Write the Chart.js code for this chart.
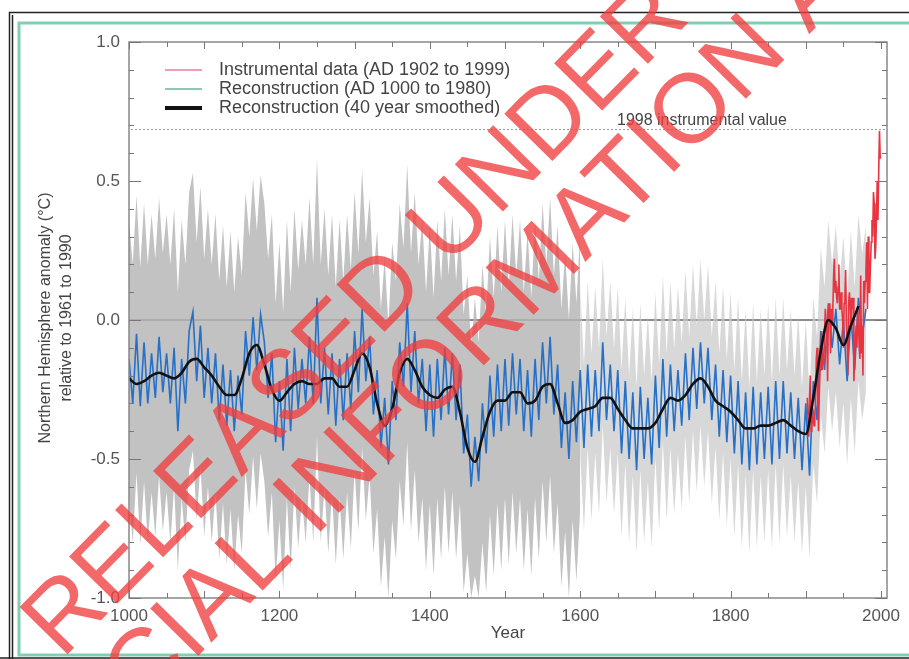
<!DOCTYPE html>
<html>
<head>
<meta charset="utf-8">
<script src="https://cdn.jsdelivr.net/npm/chart.js@4.4.1/dist/chart.umd.min.js"></script>
<style>
  html, body { margin: 0; padding: 0; background: #fff; }
  #wrap { width: 909px; height: 659px; position: relative; }
</style>
</head>
<body>
<div id="wrap"><canvas id="hockey"></canvas></div>
<script>
// reconstruction, AD 1000 to 1980, every 5 years
const reconStart = 1000;
const reconStep = 5;
const recon = [
  -0.14, -0.30, -0.05, -0.31, -0.08, -0.30, -0.12, -0.28, -0.06, -0.26,
  -0.12, -0.30, -0.10, -0.40, -0.14, -0.30, -0.04, 0.03, -0.22, -0.02,
  -0.28, -0.10, -0.30, -0.12, -0.36, -0.16, -0.38, -0.18, -0.40, -0.20,
  -0.34, -0.04, -0.20, 0.01, -0.18, 0.02, -0.08, -0.28, -0.12, -0.44,
  -0.22, -0.47, -0.14, -0.40, -0.10, -0.32, -0.14, -0.30, -0.06, -0.30,
  0.08, -0.30, -0.10, -0.34, -0.12, -0.38, -0.14, -0.36, -0.12, -0.32,
  -0.04, -0.26, 0.04, -0.22, -0.06, -0.34, -0.18, -0.46, -0.28, -0.52,
  -0.22, -0.36, -0.08, -0.24, 0.06, -0.26, -0.04, -0.30, -0.14, -0.40,
  -0.16, -0.42, -0.14, -0.36, -0.10, -0.34, -0.12, -0.36, -0.16, -0.48,
  -0.34, -0.60, -0.42, -0.58, -0.30, -0.48, -0.20, -0.42, -0.16, -0.40,
  -0.14, -0.38, -0.12, -0.34, -0.14, -0.40, -0.18, -0.42, -0.14, -0.36,
  -0.08, -0.30, -0.06, -0.34, -0.16, -0.46, -0.26, -0.50, -0.22, -0.44,
  -0.18, -0.46, -0.16, -0.42, -0.18, -0.40, -0.08, -0.36, -0.16, -0.40,
  -0.18, -0.48, -0.22, -0.50, -0.26, -0.54, -0.24, -0.50, -0.28, -0.52,
  -0.20, -0.46, -0.14, -0.42, -0.16, -0.40, -0.18, -0.38, -0.12, -0.36,
  -0.10, -0.32, -0.08, -0.30, -0.10, -0.36, -0.16, -0.42, -0.18, -0.44,
  -0.20, -0.48, -0.22, -0.52, -0.26, -0.54, -0.24, -0.52, -0.26, -0.50,
  -0.24, -0.52, -0.22, -0.50, -0.22, -0.48, -0.26, -0.50, -0.28, -0.54,
  -0.30, -0.56, -0.22, -0.36, -0.04, -0.18, 0.06, -0.10, 0.04, -0.16,
  0.00, -0.22, 0.02, -0.18, 0.08, -0.06, 0.04
];

// 40 year smoothed reconstruction, every 10 years from 1000
const smoothStart = 1000;
const smoothStep = 10;
const smooth = [
  -0.21, -0.23, -0.22, -0.20, -0.19, -0.20, -0.21, -0.19, -0.15, -0.14,
  -0.17, -0.20, -0.24, -0.27, -0.27, -0.21, -0.12, -0.09, -0.16, -0.25,
  -0.29, -0.26, -0.23, -0.22, -0.23, -0.23, -0.21, -0.21, -0.24, -0.24,
  -0.18, -0.12, -0.17, -0.30, -0.38, -0.32, -0.19, -0.14, -0.18, -0.24,
  -0.27, -0.28, -0.25, -0.24, -0.33, -0.46, -0.51, -0.42, -0.33, -0.29,
  -0.29, -0.26, -0.26, -0.30, -0.29, -0.24, -0.23, -0.30, -0.37, -0.36,
  -0.33, -0.32, -0.31, -0.28, -0.28, -0.32, -0.36, -0.39, -0.39, -0.39,
  -0.37, -0.32, -0.28, -0.29, -0.27, -0.23, -0.21, -0.24, -0.29, -0.31,
  -0.33, -0.36, -0.39, -0.39, -0.38, -0.38, -0.37, -0.36, -0.38, -0.40,
  -0.41, -0.28, -0.11, 0.00, -0.03, -0.09, -0.02, 0.05
];

// instrumental data, AD 1902 to 1999
const instStart = 1902;
const instrumental = [
  -0.28, -0.36, -0.42, -0.28, -0.20, -0.40, -0.38, -0.36, -0.34, -0.38,
  -0.34, -0.30, -0.14, -0.10, -0.28, -0.40, -0.26, -0.18, -0.16, -0.04,
  -0.18, -0.12, -0.16, -0.04, 0.04, -0.02, -0.04, -0.22, 0.02, 0.06,
  0.02, -0.12, 0.04, -0.02, 0.04, 0.16, 0.22, 0.10, 0.14, 0.08,
  0.06, 0.12, 0.20, 0.04, 0.04, 0.10, 0.04, 0.00, -0.10, 0.06,
  0.08, 0.18, -0.02, -0.08, -0.20, 0.06, 0.10, 0.06, -0.02, 0.08,
  0.04, 0.08, -0.22, -0.14, -0.06, -0.02, -0.10, 0.04, 0.00, -0.10,
  -0.14, 0.16, -0.12, -0.02, -0.20, 0.14, 0.06, 0.14, 0.18, 0.28,
  0.04, 0.30, 0.10, 0.10, 0.20, 0.28, 0.36, 0.30, 0.46, 0.42,
  0.22, 0.26, 0.36, 0.50, 0.36, 0.54, 0.68, 0.58
];

// two sigma uncertainty, wider before 1600
const bandEdges = [1000, 1600, 1980];
const bandHalfWidth = [0.5, 0.3];
const bandColors = ['rgba(180,180,180,0.82)', 'rgba(200,200,200,0.7)'];

const value1998 = 0.685;
const xTickLabels = [1000, 1200, 1400, 1600, 1800, 2000];
const yTickLabels = [-1.0, -0.5, 0.0, 0.5, 1.0];

const legendItems = [
  { text: 'Instrumental data (AD 1902 to 1999)', color: 'rgb(232,160,178)', width: 2 },
  { text: 'Reconstruction (AD 1000 to 1980)', color: 'rgb(140,200,178)', width: 2 },
  { text: 'Reconstruction (40 year smoothed)', color: '#111', width: 4 }
];

const reconPts = recon.map((v, i) => ({ x: reconStart + i * reconStep, y: v }));
const smoothPts = smooth.map((v, i) => ({ x: smoothStart + i * smoothStep, y: v }));
const instPts = instrumental.map((v, i) => ({ x: instStart + i, y: v }));

const bandSets = [];
for (let k = 0; k < bandHalfWidth.length; k++) {
  const pts = reconPts.filter(p => p.x >= bandEdges[k] && p.x <= bandEdges[k + 1]);
  bandSets.push({
    data: pts.map(p => ({ x: p.x, y: Math.min(1, p.y + bandHalfWidth[k]) })),
    borderWidth: 0, pointRadius: 0, fill: '+1',
    backgroundColor: bandColors[k], order: 10
  });
  bandSets.push({
    data: pts.map(p => ({ x: p.x, y: Math.max(-1, p.y - bandHalfWidth[k]) })),
    borderWidth: 0, pointRadius: 0, fill: false, order: 10
  });
}

const FONT = '"Liberation Sans", Arial, sans-serif';

const decor = {
  id: 'decor',
  beforeDraw(chart) {
    const c = chart.ctx;
    c.save();
    c.fillStyle = '#fff';
    c.fillRect(0, 0, chart.width, chart.height);
    // outer frames
    c.strokeStyle = '#222';
    c.lineWidth = 1.5;
    c.beginPath();
    c.moveTo(909, 12.5); c.lineTo(9.5, 12.5); c.lineTo(9.5, 659);
    c.moveTo(12.5, 659); c.lineTo(12.5, 15);
    c.moveTo(0, 658); c.lineTo(909, 658);
    c.stroke();
    c.strokeStyle = 'rgb(130,206,176)';
    c.lineWidth = 3;
    c.beginPath();
    c.moveTo(909, 23); c.lineTo(19, 23); c.lineTo(19, 655); c.lineTo(909, 655);
    c.stroke();
    c.restore();
  },
  beforeDatasetsDraw(chart) {
    // zero line, under the curves
    const c = chart.ctx, a = chart.chartArea;
    const ys = chart.scales.y;
    c.save();
    c.strokeStyle = '#666';
    c.lineWidth = 1.5;
    c.beginPath();
    c.moveTo(a.left, ys.getPixelForValue(0));
    c.lineTo(a.right, ys.getPixelForValue(0));
    c.stroke();
    c.restore();
  },
  afterDatasetsDraw(chart) {
    const c = chart.ctx, a = chart.chartArea;
    const xs = chart.scales.x, ys = chart.scales.y;
    c.save();
    // 1998 instrumental value
    const y98 = ys.getPixelForValue(value1998);
    c.strokeStyle = '#999';
    c.lineWidth = 1;
    c.setLineDash([2, 2]);
    c.beginPath();
    c.moveTo(a.left + 2, y98); c.lineTo(a.right - 2, y98);
    c.stroke();
    c.setLineDash([]);
    c.fillStyle = '#444';
    c.font = '16px ' + FONT;
    c.textBaseline = 'alphabetic';
    c.fillText('1998 instrumental value', 617, y98 - 5);

    // frame
    c.strokeStyle = '#888';
    c.lineWidth = 1.5;
    c.strokeRect(a.left, a.top, a.right - a.left, a.bottom - a.top);

    // ticks, all pointing inward
    c.strokeStyle = '#777';
    c.lineWidth = 1;
    c.beginPath();
    for (let yr = 1000; yr <= 2000; yr += 50) {
      const px = Math.round(xs.getPixelForValue(yr)) + 0.5;
      const len = yr % 100 === 0 ? 7 : 5;
      c.moveTo(px, a.bottom); c.lineTo(px, a.bottom - len);
      c.moveTo(px, a.top); c.lineTo(px, a.top + len);
    }
    for (let i = -10; i <= 10; i++) {
      const py = Math.round(ys.getPixelForValue(i / 10)) + 0.5;
      const len = i % 5 === 0 ? 12 : 5;
      c.moveTo(a.left, py); c.lineTo(a.left + len, py);
      c.moveTo(a.right, py); c.lineTo(a.right - len, py);
    }
    c.stroke();

    // legend
    c.font = '18px ' + FONT;
    c.textBaseline = 'middle';
    legendItems.forEach((it, i) => {
      const ly = 70 + i * 19;
      c.strokeStyle = it.color;
      c.lineWidth = it.width;
      c.beginPath();
      c.moveTo(165, ly); c.lineTo(202, ly);
      c.stroke();
      c.fillStyle = '#444';
      c.fillText(it.text, 219, ly);
    });

    // axis titles
    c.fillStyle = '#444';
    c.font = '17px ' + FONT;
    c.textAlign = 'center';
    c.textBaseline = 'middle';
    c.fillText('Year', 508, 633);
    c.translate(46, 318);
    c.rotate(-Math.PI / 2);
    c.font = '16px ' + FONT;
    c.fillText('Northern Hemisphere anomaly (\u00B0C)', 0, 0);
    c.fillText('relative to 1961 to 1990', 0, 21);
    c.restore();
  },
  afterDraw(chart) {
    // stamp over the whole figure
    const c = chart.ctx;
    c.save();
    c.fillStyle = 'rgba(240,62,62,0.78)';
    c.font = '98px ' + FONT;
    c.textBaseline = 'alphabetic';
    c.textAlign = 'left';
    const ang = -45.5 * Math.PI / 180;
    c.save();
    c.translate(62, 660); c.rotate(ang);
    c.fillText('RELEASED UNDER THE', 0, 0);
    c.restore();
    c.save();
    c.translate(-14, 872); c.rotate(ang);
    c.fillText('OFFICIAL INFORMATION ACT', 0, 0);
    c.restore();
    c.restore();
  }
};

new Chart(document.getElementById('hockey'), {
  type: 'line',
  data: {
    datasets: [
      ...bandSets,
      { data: reconPts, borderColor: 'rgb(38,112,200)', borderWidth: 1.6, pointRadius: 0, tension: 0, fill: false, order: 3 },
      { data: instPts, borderColor: 'rgb(232,52,64)', borderWidth: 1.6, pointRadius: 0, tension: 0, fill: false, order: 2 },
      { data: smoothPts, borderColor: '#111', borderWidth: 2.6, pointRadius: 0, cubicInterpolationMode: 'monotone', fill: false, order: 1 }
    ]
  },
  options: {
    responsive: true,
    maintainAspectRatio: false,
    animation: false,
    events: [],
    layout: { padding: { left: 0, top: 42, right: 22, bottom: 0 } },
    plugins: {
      legend: { display: false },
      tooltip: { enabled: false },
      filler: { propagate: false }
    },
    scales: {
      x: {
        type: 'linear', min: 1000, max: 2008,
        grid: { display: false },
        border: { display: false },
        afterBuildTicks: s => { s.ticks = xTickLabels.map(v => ({ value: v })); },
        ticks: {
          autoSkip: false, padding: 0, color: '#555', maxRotation: 0,
          font: { size: 17, family: FONT },
          callback: v => String(v)
        },
        afterFit: s => { s.height = 61; }
      },
      y: {
        min: -1, max: 1,
        grid: { display: false },
        border: { display: false },
        ticks: {
          stepSize: 0.5, padding: 1, color: '#555',
          font: { size: 17, family: FONT },
          callback: v => yTickLabels.some(t => Math.abs(t - v) < 1e-6) ? v.toFixed(1) : ''
        },
        afterFit: s => { s.width = 129; }
      }
    }
  },
  plugins: [decor]
});
</script>
</body>
</html>
